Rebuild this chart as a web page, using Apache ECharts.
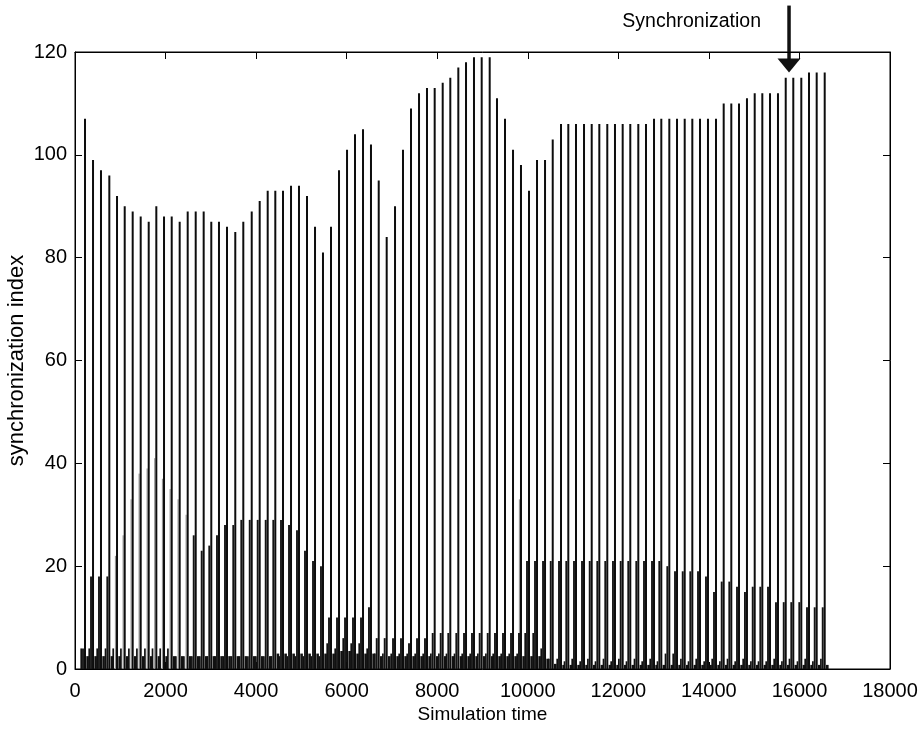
<!DOCTYPE html>
<html>
<head>
<meta charset="utf-8">
<script src="https://cdn.jsdelivr.net/npm/echarts@6/dist/echarts.min.js"></script>
<style>
  html, body { margin: 0; padding: 0; background: #fff; }
  #chart { width: 920px; height: 732px; }
</style>
</head>
<body>
<div id="chart"></div>
<script>
// firing times of the big synchronous bursts (simulation time)
const spikeTime = [
  221, 398, 574, 758, 928, 1098, 1274, 1451, 1628, 1796,
  1966, 2136, 2312, 2489, 2666, 2842, 3010, 3180, 3357, 3540,
  3717, 3903, 4079, 4256, 4424, 4594, 4771, 4947, 5124, 5301,
  5477, 5654, 5831, 6008, 6184, 6361, 6537, 6708, 6884, 7068,
  7244, 7421, 7598, 7774, 7944, 8121, 8289, 8466, 8636, 8812,
  8982, 9159, 9320, 9497, 9674, 9850, 10027, 10204, 10381, 10551,
  10734, 10895, 11065, 11242, 11412, 11580, 11756, 11926, 12096, 12264,
  12441, 12611, 12788, 12949, 13126, 13296, 13466, 13634, 13804, 13980,
  14157, 14327, 14495, 14665, 14841, 15012, 15180, 15350, 15526, 15697,
  15864, 16041, 16211, 16381, 16558
];
// peak of each burst
const mainHeight = [
  107, 99, 97, 96, 92, 90, 89, 88, 87, 90,
  88, 88, 87, 89, 89, 89, 87, 87, 86, 85,
  87, 89, 91, 93, 93, 93, 94, 94, 92, 86,
  81, 86, 97, 101, 104, 105, 102, 95, 84, 90,
  101, 109, 112, 113, 113, 114, 115, 117, 118, 119,
  119, 119, 111, 107, 101, 98, 93, 99, 99, 103,
  106, 106, 106, 106, 106, 106, 106, 106, 106, 106,
  106, 106, 107, 107, 107, 107, 107, 107, 107, 107,
  107, 110, 110, 110, 111, 112, 112, 112, 112, 115,
  115, 115, 116, 116, 116
];
// secondary burst just before each big one (solid ones)
const sideHeight = [
  4, 18, 18, 18, 0, 0, 0, 0, 0, 0,
  0, 0, 0, 0, 26, 23, 24, 26, 28, 28,
  29, 29, 29, 29, 29, 29, 28, 27, 23, 21,
  20, 10, 10, 10, 10, 10, 12, 6, 6, 6,
  6, 5, 6, 6, 7, 7, 7, 7, 7, 7,
  7, 7, 7, 7, 7, 7, 21, 21, 21, 21,
  21, 21, 21, 21, 21, 21, 21, 21, 21, 21,
  21, 21, 21, 21, 20, 19, 19, 19, 19, 18,
  15, 17, 17, 16, 15, 16, 16, 16, 13, 13,
  13, 13, 12, 12, 12
];
// the faint secondary bursts of the early phase
const faintHeight = [
  0, 0, 0, 0, 22, 26, 33, 38, 39, 41,
  37, 35, 33, 30, 0, 0, 0, 0, 0, 0,
  0, 0, 0, 0, 0, 0, 0, 0, 0, 0,
  0, 0, 0, 0, 0, 0, 0, 0, 0, 0,
  0, 0, 0, 0, 0, 0, 0, 0, 0, 0,
  0, 0, 0, 0, 0, 33, 0, 0, 0, 0,
  0, 0, 0, 0, 0, 0, 0, 0, 0, 0,
  0, 0, 0, 0, 0, 0, 0, 0, 0, 0,
  0, 0, 0, 0, 0, 0, 0, 0, 0, 0,
  0, 0, 0, 0, 0
];
// small mid-cycle bursts
const lowHeight = [
  4, 4, 4, 4, 4, 4, 4, 4, 4, 4,
  4, 4, 2.5, 2.5, 2.5, 2.5, 2.5, 2.5, 2.5, 2.5,
  2.5, 2.5, 2.5, 2.5, 2.5, 2.5, 2.5, 2.5, 2.5, 2.5,
  2.5, 5, 4, 6, 5, 5, 4, 3, 3, 3,
  3, 3, 3, 3, 3, 3, 3, 3, 3, 3,
  3, 3, 3, 3, 3, 3, 7, 7, 4, 2,
  2, 1.5, 2, 1.5, 2, 1.5, 2, 1.5, 2, 1.5,
  2, 1.5, 2, 1.5, 3, 3, 2, 1.5, 2, 1.5,
  2, 1.5, 2, 1.5, 2, 1.5, 1.5, 1.5, 2, 1.5,
  2, 1.5, 2, 1.5, 2
];
// background activity after each burst
const noiseHeight = [
  2.5, 2.5, 2.5, 2.5, 2.5, 2.5, 2.5, 2.5, 2.5, 2.5,
  2.5, 2.5, 2.5, 2.5, 2.5, 2.5, 2.5, 2.5, 2.5, 2.5,
  2.5, 2.5, 2.5, 2.5, 3, 3, 3, 3, 3, 3,
  3, 3, 3.5, 3.5, 3, 3, 3, 2.5, 2.5, 2.5,
  2.5, 2.5, 2.5, 2.5, 2.5, 2.5, 2.5, 2.5, 2.5, 2.5,
  2.5, 2.5, 2.5, 2.5, 2.5, 2.5, 2.5, 2.5, 2, 1,
  0.8, 0.8, 0.8, 0.8, 0.8, 0.8, 0.8, 0.8, 0.8, 0.8,
  0.8, 0.8, 0.8, 0.8, 0.8, 0.8, 0.8, 0.8, 0.8, 0.8,
  0.8, 0.8, 0.8, 0.8, 0.8, 0.8, 0.8, 0.8, 0.8, 0.8,
  0.8, 0.8, 0.8, 0.8, 0.8
];
// arrow annotation (points at the burst where synchronization sets in)
const noteText = 'Synchronization';
const notePoint = [15770, 116];

const FONT = 'Liberation Sans, Arial, Helvetica, sans-serif';

// one vertical stroke per burst, drawn from 0 up to its value
function spikeSeries(name, heights, dx, width, color) {
  return {
    name,
    type: 'custom',
    clip: true,
    silent: true,
    encode: { x: 0, y: 1 },
    data: spikeTime.map((t, i) => [t, heights[i]]),
    renderItem: (params, api) => {
      if (!api.value(1)) return null;
      const base = api.coord([api.value(0), 0]);
      const top = api.coord([api.value(0), api.value(1)]);
      return {
        type: 'line',
        shape: { x1: base[0] + dx, y1: base[1], x2: top[0] + dx, y2: top[1] },
        style: { stroke: color, lineWidth: width }
      };
    }
  };
}

const chart = echarts.init(document.getElementById('chart'));

const labelStyle = { color: '#000', fontSize: 20, fontFamily: FONT, formatter: v => String(v) };
const tickIn = () => ({ show: true, inside: true, length: 7, lineStyle: { color: '#000', width: 1 } });
const boxLine = () => ({ show: true, onZero: false, lineStyle: { color: '#000', width: 1 } });

chart.setOption({
  animation: false,
  backgroundColor: '#fff',
  grid: {
    left: 75, top: 52, width: 815, height: 617,
    outerBoundsMode: 'none', containLabel: false,
    show: true, borderColor: '#000', borderWidth: 1
  },
  xAxis: [
    {
      type: 'value', min: 0, max: 18000, interval: 2000, position: 'bottom',
      name: 'Simulation time', nameLocation: 'middle', nameGap: 36, nameMoveOverlap: false,
      nameTextStyle: { color: '#000', fontSize: 19, fontFamily: FONT },
      axisLine: boxLine(),
      axisTick: tickIn(),
      axisLabel: Object.assign({ margin: 12 }, labelStyle),
      splitLine: { show: false }
    },
    {
      type: 'value', min: 0, max: 18000, interval: 2000, position: 'top',
      axisLine: boxLine(),
      axisTick: tickIn(), axisLabel: { show: false }, splitLine: { show: false }
    }
  ],
  yAxis: [
    {
      type: 'value', min: 0, max: 120, interval: 20, position: 'left',
      name: 'synchronization index', nameLocation: 'middle', nameGap: 47, nameMoveOverlap: false,
      nameTextStyle: { color: '#000', fontSize: 22, fontFamily: FONT },
      axisLine: boxLine(),
      axisTick: tickIn(),
      axisLabel: Object.assign({ margin: 8 }, labelStyle),
      splitLine: { show: false }
    },
    {
      type: 'value', min: 0, max: 120, interval: 20, position: 'right',
      axisLine: boxLine(),
      axisTick: tickIn(), axisLabel: { show: false }, splitLine: { show: false }
    }
  ],
  series: [
    spikeSeries('noise', noiseHeight, 2.6, 2.6, '#111'),
    spikeSeries('low', lowHeight, -3.8, 1.7, '#111'),
    spikeSeries('faint', faintHeight, -1.6, 1, '#8a8a8a'),
    spikeSeries('side', sideHeight, -2, 1.9, '#151515'),
    spikeSeries('main', mainHeight, 0, 2, '#0d0d0d')
  ]
});

// place the arrow and its text from the data point it marks
const tip = chart.convertToPixel({ xAxisIndex: 0, yAxisIndex: 0 }, notePoint);
chart.setOption({
  graphic: [
    {
      type: 'line',
      shape: { x1: tip[0], y1: tip[1] - 67, x2: tip[0], y2: tip[1] - 12 },
      style: { stroke: '#111', lineWidth: 3.5 }
    },
    {
      type: 'polygon',
      shape: { points: [[tip[0] - 11.5, tip[1] - 14], [tip[0] + 11.5, tip[1] - 14], [tip[0], tip[1]]] },
      style: { fill: '#111' }
    },
    {
      type: 'text',
      x: tip[0] - 28, y: tip[1] - 51,
      style: { text: noteText, fill: '#000', font: '19.5px ' + FONT, textAlign: 'right', textVerticalAlign: 'middle' }
    }
  ]
});
</script>
</body>
</html>
